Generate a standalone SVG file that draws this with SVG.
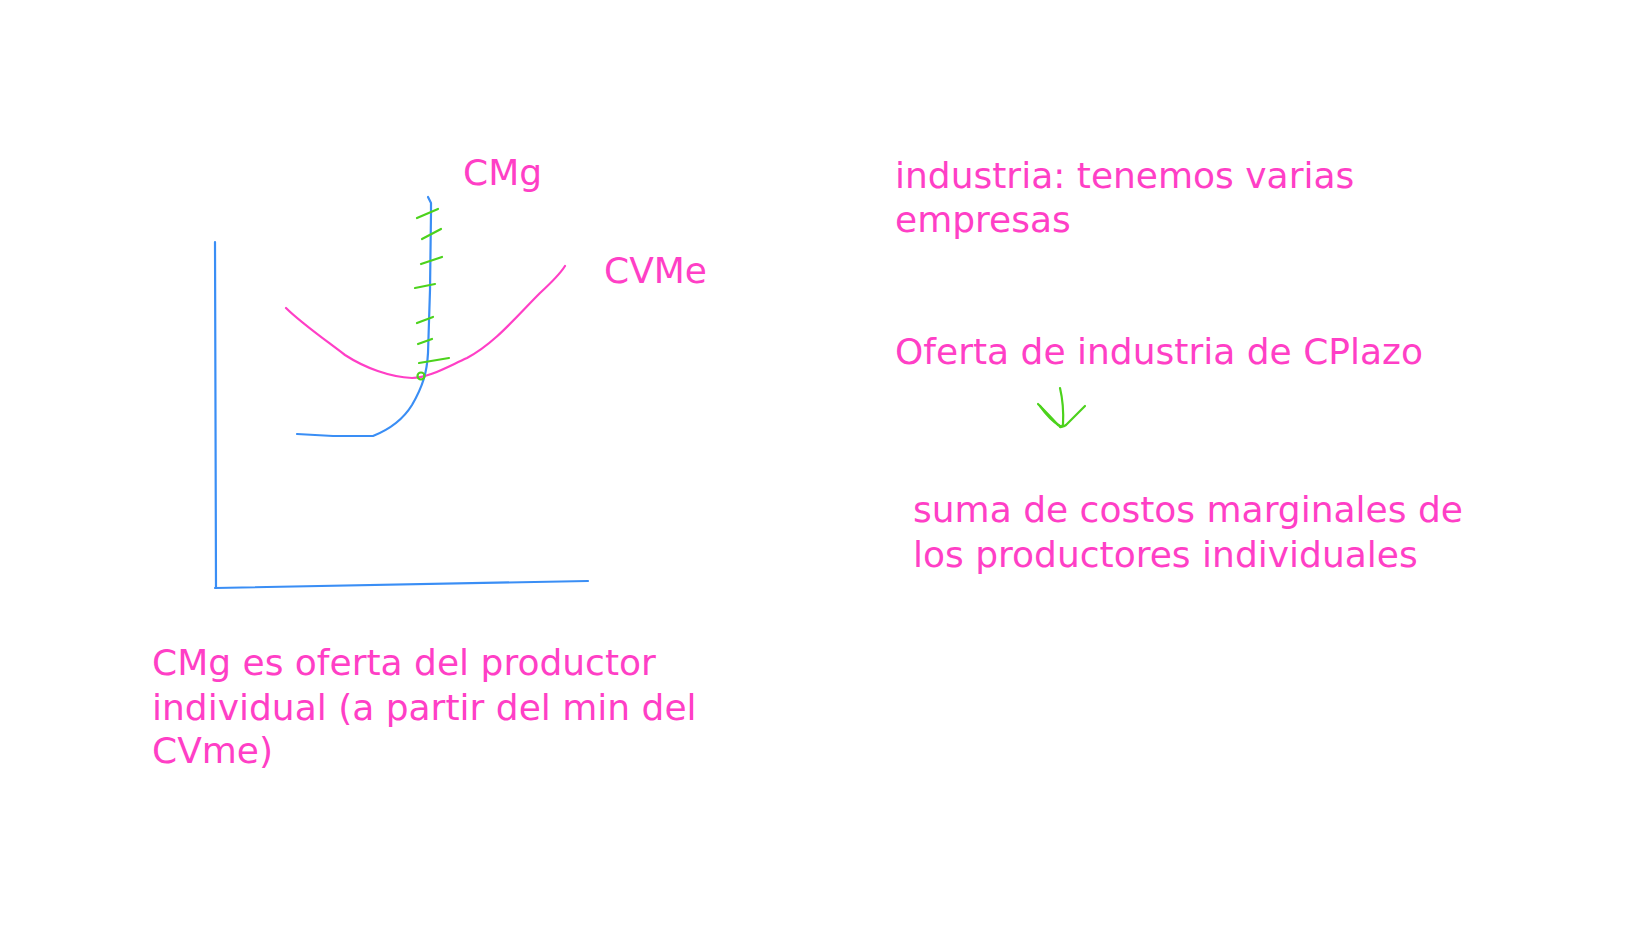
<svg xmlns="http://www.w3.org/2000/svg" width="1648" height="927" viewBox="0 0 1648 927">
<style>
.t{font-family:"DejaVu Sans","Verdana",sans-serif;font-size:36px;fill:#ff3fc6}
.b{fill:none;stroke:#3a8ef5;stroke-width:2.2;stroke-linecap:round;stroke-linejoin:round}
.p{fill:none;stroke:#ff3fc6;stroke-width:2.2;stroke-linecap:round;stroke-linejoin:round}
.g{fill:none;stroke:#4cd21c;stroke-width:2.2;stroke-linecap:round;stroke-linejoin:round}
</style>
<rect width="1648" height="927" fill="#fff"/>
<g id="axes">
<path class="b" d="M215 242 L216 588"/>
<path class="b" d="M215 588 L588 581"/>
</g>
<g id="cvme-curve">
<path class="p" d="M286 308 C300 322 320 336 345 355 C365 368 390 377 412 378 C428 378 445 368 467 358 C495 343 515 318 540 293 C552 282 560 274 565 266"/>
</g>
<g id="cmg-curve">
<path class="b" d="M428 197 L431 203 L431 213 L430 290 L428 353 C427 372 423 386 412 405 C404 418 393 428 373 436 L333 436 L297 434"/>
</g>
<g id="ticks">
<path class="g" d="M417 218 L438 209"/>
<path class="g" d="M422 239 L441 229"/>
<path class="g" d="M421 264 L442 257"/>
<path class="g" d="M415 288 L435 284"/>
<path class="g" d="M417 323 L433 317"/>
<path class="g" d="M418 344 L432 339"/>
<path class="g" d="M419 363 L449 358"/>
<circle class="g" cx="421" cy="376" r="3.5"/>
</g>
<g id="labels-graph">
<text class="t" x="463" y="185">CMg</text>
<text class="t" x="604" y="283">CVMe</text>
</g>
<g id="caption-left">
<text class="t" x="152" y="675">CMg es oferta del productor</text>
<text class="t" x="152" y="720">individual (a partir del min del</text>
<text class="t" x="152" y="763">CVme)</text>
</g>
<g id="industria">
<text class="t" x="895" y="188">industria: tenemos varias</text>
<text class="t" x="895" y="232">empresas</text>
</g>
<g id="oferta">
<text class="t" x="895" y="364">Oferta de industria de CPlazo</text>
</g>
<g id="connectors">
<path class="g" d="M1060 388 Q1064 405 1063 424 Q1062 428 1060 427"/>
<path class="g" d="M1038 404 Q1050 416 1058 425 Q1062 428 1066 425 Q1076 415 1085 406"/>
<path class="g" d="M1040 406 Q1050 420 1060 426"/>
</g>
<g id="suma">
<text class="t" x="913" y="522">suma de costos marginales de</text>
<text class="t" x="913" y="567">los productores individuales</text>
</g>
</svg>
